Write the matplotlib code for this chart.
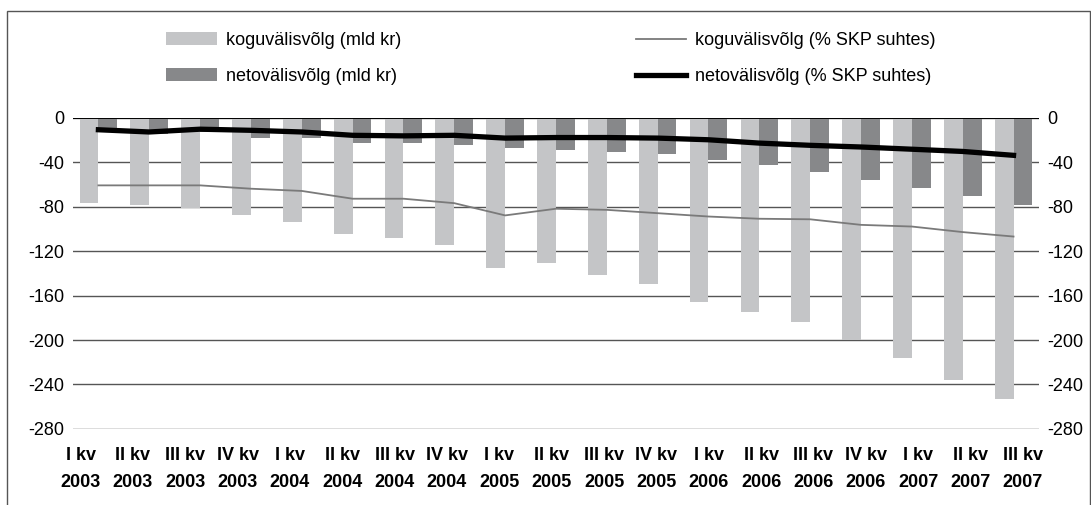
import numpy as np
import matplotlib
matplotlib.use("Agg")
import matplotlib.pyplot as plt
from matplotlib.patches import Rectangle

plt.rcParams['font.family'] = ['Liberation Sans', 'DejaVu Sans']
plt.rcParams['axes.unicode_minus'] = False

quarters = ['I kv', 'II kv', 'III kv', 'IV kv'] * 5
years = ['2003'] * 4 + ['2004'] * 4 + ['2005'] * 4 + ['2006'] * 4 + ['2007'] * 3
labels = [q + '\n' + y for q, y in zip(quarters, years)]

# billions of kroons
gross_debt = [-77, -79, -81, -88, -94, -105, -108, -115, -135, -131,
              -142, -150, -166, -175, -184, -200, -216, -236, -253]
net_debt = [-9, -15, -13, -18, -18, -23, -23, -25, -27, -29,
            -31, -33, -38, -43, -49, -56, -63, -71, -79]
# percent of GDP
gross_pct = [-61, -61, -61, -64, -66, -73, -73, -77, -88, -82,
             -83, -86, -89, -91, -91.5, -96.5, -98, -103, -107]
net_pct = [-11, -13, -10.5, -11.5, -13, -16, -16.5, -16, -18.5, -18,
           -18, -18.5, -20, -23, -25, -26.5, -28.5, -30.5, -34]

fig = plt.figure(figsize=(10.91, 5.05), dpi=100)
ax = fig.add_axes([0.0669, 0.1505, 0.8854, 0.6168])
x = np.arange(len(gross_debt))
w = 0.37

b1 = ax.bar(x - w / 2, gross_debt, w, color='#c4c5c7', label='koguvälisvõlg (mld kr)', zorder=2)
b2 = ax.bar(x + w / 2, net_debt, w, color='#87888a', label='netovälisvõlg (mld kr)', zorder=2)

ax2 = ax.twinx()
l1, = ax2.plot(x, gross_pct, color='#7a7a7a', lw=1.3, label='koguvälisvõlg (% SKP suhtes)', zorder=3)
l2, = ax2.plot(x, net_pct, color='black', lw=3.8, label='netovälisvõlg (% SKP suhtes)', zorder=4)

for a in (ax, ax2):
    a.set_ylim(-280, 0)
    a.set_xlim(-0.5, len(x) - 0.5)
    a.set_yticks(np.arange(-280, 1, 40))
    for s in a.spines.values():
        s.set_visible(False)
    a.tick_params(axis='y', length=0, labelsize=13, pad=6)

ax.yaxis.grid(True, color='#555555', lw=1.0, zorder=0)
ax.set_axisbelow(True)
ax.axhline(0, color='black', lw=1.4, zorder=5)

# category labels in the picture are spread slightly wider than the bars
lab_pos = -0.35 + x * 1.0295
ax.set_xticks(lab_pos)
ax.set_xticklabels(labels, fontsize=13, fontweight='bold', linespacing=1.8)
ax.tick_params(axis='x', length=0, pad=13)

fig.legend(handles=[b1, b2, l1, l2], ncol=2, frameon=False, fontsize=13,
           loc='upper left', bbox_to_anchor=(166 / 1091, 1 - 32 / 505),
           handlelength=2.8, handletextpad=0.5, labelspacing=1.05,
           columnspacing=13.0, borderpad=0, borderaxespad=0)

fig.patches.append(Rectangle((6.5 / 1091, -0.01), 1083 / 1091, 1 - 10.5 / 505 + 0.01,
                             transform=fig.transFigure, fill=False,
                             edgecolor='#555555', lw=1.0))

fig.savefig('out.png', dpi=100)
